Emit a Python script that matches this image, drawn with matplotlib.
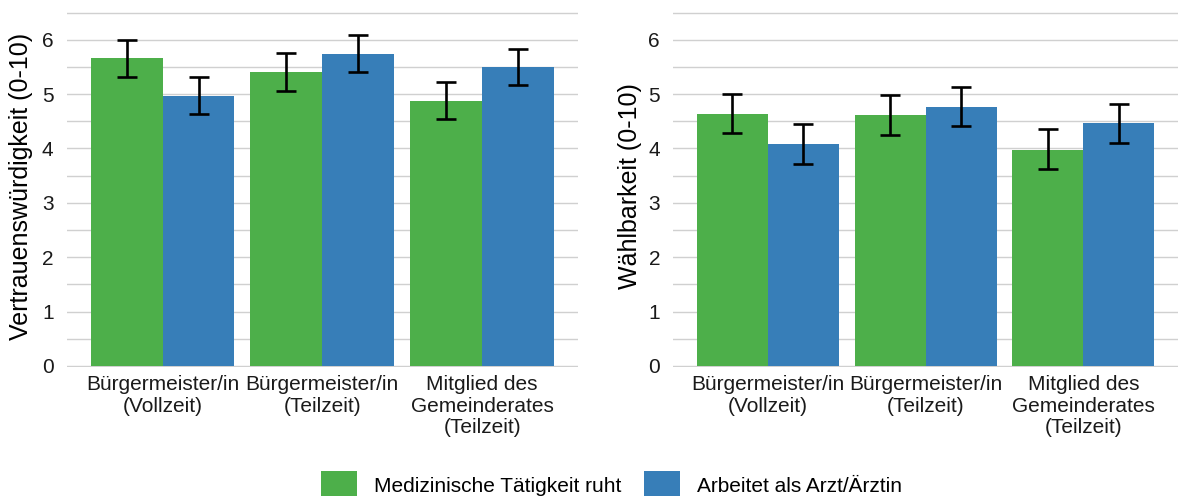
import matplotlib.pyplot as plt
import numpy as np
from matplotlib.patches import Patch

plt.rcParams["font.family"] = ["Liberation Sans", "DejaVu Sans"]

categories = [
    "Bürgermeister/in\n(Vollzeit)",
    "Bürgermeister/in\n(Teilzeit)",
    "Mitglied des\nGemeinderates\n(Teilzeit)",
]
series = ["Medizinische Tätigkeit ruht", "Arbeitet als Arzt/Ärztin"]
colors = ["#4DAF4A", "#377EB8"]

# Vertrauenswürdigkeit: mean, lower, upper
vertrauen_ruht = [5.66, 5.41, 4.88]
vertrauen_ruht_lo = [5.32, 5.06, 4.55]
vertrauen_ruht_hi = [6.00, 5.76, 5.23]
vertrauen_arzt = [4.97, 5.73, 5.50]
vertrauen_arzt_lo = [4.63, 5.40, 5.17]
vertrauen_arzt_hi = [5.32, 6.08, 5.83]

# Wählbarkeit: mean, lower, upper
waehl_ruht = [4.64, 4.61, 3.98]
waehl_ruht_lo = [4.28, 4.24, 3.63]
waehl_ruht_hi = [5.01, 4.98, 4.35]
waehl_arzt = [4.08, 4.77, 4.46]
waehl_arzt_lo = [3.72, 4.41, 4.10]
waehl_arzt_hi = [4.45, 5.13, 4.81]

panels = [
    ("Vertrauenswürdigkeit (0-10)",
     [(vertrauen_ruht, vertrauen_ruht_lo, vertrauen_ruht_hi),
      (vertrauen_arzt, vertrauen_arzt_lo, vertrauen_arzt_hi)]),
    ("Wählbarkeit (0-10)",
     [(waehl_ruht, waehl_ruht_lo, waehl_ruht_hi),
      (waehl_arzt, waehl_arzt_lo, waehl_arzt_hi)]),
]

W, H = 1178, 496
fig = plt.figure(figsize=(W / 100, H / 100), dpi=100)
boxes = [(66.7, 578), (673.3, 1178)]
bottom, top = 367, 6

x = np.arange(1, len(categories) + 1)
dodge = 0.9
bw = dodge / 2

for (label, data), (x0, x1), lab_x in zip(panels, boxes, [-0.066, -0.062]):
    ax = fig.add_axes([x0 / W, (H - bottom) / H, (x1 - x0) / W, (bottom - top) / H])
    for i, (vals, lo, hi) in enumerate(data):
        pos = x - dodge / 4 + i * bw
        vals = np.array(vals)
        ax.bar(pos, vals, width=bw, color=colors[i], zorder=2)
        ax.errorbar(pos, vals, yerr=[vals - np.array(lo), np.array(hi) - vals],
                    fmt="none", ecolor="black", elinewidth=1.9, capsize=7.5,
                    capthick=1.9, zorder=3)
    ax.set_xlim(0.4, 3.6)
    ax.set_ylim(-0.02, 6.62)
    ax.set_yticks(range(0, 7))
    ax.set_yticks(np.arange(0.5, 6.6, 1), minor=True)
    ax.yaxis.grid(True, which="both", color="#D0D0D0", linewidth=1.0, zorder=0)
    ax.set_axisbelow(True)
    ax.set_xticks(x)
    ax.set_xticklabels(categories, fontsize=15, linespacing=1.15)
    ax.tick_params(axis="x", length=0, pad=6, labelcolor="#1a1a1a")
    ax.tick_params(axis="y", which="both", length=0, pad=9.5, labelsize=15,
                   labelcolor="#1a1a1a")
    for s in ax.spines.values():
        s.set_visible(False)
    ax.set_ylabel(label, fontsize=18, color="black")
    ax.yaxis.set_label_coords(lab_x, 0.5)

handles = [Patch(facecolor=c, edgecolor="none") for c in colors]
fig.legend(handles, series, loc="center", bbox_to_anchor=(0.519, 0.022),
           ncol=2, frameon=False, fontsize=15, handlelength=1.75,
           handleheight=1.75, handletextpad=0.8, columnspacing=1.1)

fig.savefig("out.png", dpi=100)
